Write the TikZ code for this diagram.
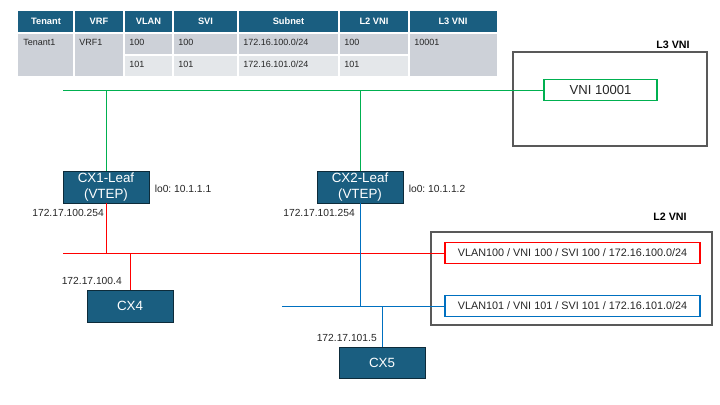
\documentclass[tikz,border=0pt]{standalone}
\usepackage{fontspec}
\setmainfont{Liberation Sans}
\usetikzlibrary{positioning}
\frenchspacing

\definecolor{hdrBlue}{HTML}{1A5E80}
\definecolor{devBorder}{HTML}{0D2B3A}
\definecolor{tblDark}{HTML}{CDD1D8}
\definecolor{tblLight}{HTML}{E4E7EA}
\definecolor{vniGreen}{HTML}{00B050}
\definecolor{vniRed}{HTML}{FF0000}
\definecolor{vniBlue}{HTML}{0070C0}
\definecolor{boxGray}{HTML}{595959}
\definecolor{txtGray}{HTML}{262626}

\begin{document}
\begin{tikzpicture}[x=0.025cm, y=-0.025cm, node distance=1mm,
    device/.style={draw=devBorder, fill=hdrBlue, text=white, inner sep=0pt,
        minimum width=2.15cm, minimum height=0.8cm, align=center,
        font=\fontsize{9.5}{11.3}\selectfont},
    ipLabel/.style={inner sep=0pt, text=txtGray, font=\fontsize{7.3}{9}\selectfont},
    tblText/.style={inner sep=0pt, text=txtGray, font=\fontsize{6.4}{8}\selectfont},
    hdrText/.style={inner sep=0pt, text=white, font=\fontsize{6.6}{8}\selectfont\bfseries},
    vniTitle/.style={inner sep=0pt, font=\fontsize{7.6}{9}\selectfont\bfseries},
    vniBox/.style={draw=boxGray, line width=1.4pt, inner sep=0pt},
    segBox/.style={line width=1.4pt, inner sep=0pt, minimum width=6.375cm,
        minimum height=0.525cm, text=txtGray, font=\fontsize{7.7}{9}\selectfont},
    bus/.style={line width=0.7pt}]
    \useasboundingbox (0,0) rectangle (720,405);

    \fill[tblDark] (18,33) rectangle (497,76);
    \fill[tblLight] (124,55) rectangle (409,76);
    \foreach \xa/\xb/\head in {18/74/Tenant, 74/124/VRF, 124/173/VLAN, 173/238/SVI,
            238/339/Subnet, 339/409/L2 VNI, 409/497/L3 VNI} {
        \fill[hdrBlue] (\xa,11) rectangle (\xb,33);
        \node[hdrText] at ({(\xa+\xb)/2},21) {\head};
    }
    \foreach \xc in {74,124,173,238,339,409}
        \draw[white, line width=1pt] (\xc,11) -- (\xc,76);
    \draw[white, line width=1pt] (18,33) -- (497,33);
    \draw[white, line width=1pt] (124,55) -- (409,55);
    \foreach \xa/\cell in {18/Tenant1, 74/VRF1, 124/100, 173/100, 238/172.16.100.0\slash 24,
            339/100, 409/10001}
        \node[tblText, anchor=west] at (\xa+5,42) {\cell};
    \foreach \xa/\cell in {124/101, 173/101, 238/172.16.101.0\slash 24, 339/101}
        \node[tblText, anchor=west] at (\xa+5,64) {\cell};

    \node[vniBox, minimum width=4.85cm, minimum height=2.35cm] (l3Vni) at (610,99) {};
    \node[vniTitle] (l3Title) at (673,45) {L3 VNI};
    \node[vniBox, draw=vniGreen, minimum width=2.825cm, minimum height=0.525cm,
        font=\fontsize{9.3}{11}\selectfont, text=txtGray] (vni10001) at (600.5,90) {VNI 10001};

    \node[vniBox, minimum width=7.025cm, minimum height=2.325cm] (l2Vni) at (571.5,278.5) {};
    \node[vniTitle] (l2Title) at (670,217) {L2 VNI};
    \node[segBox, draw=vniRed] (vlan100) at (572.5,253) {VLAN100 / VNI 100 / SVI 100 / 172.16.100.0/24};
    \node[segBox, draw=vniBlue] (vlan101) at (572.5,306) {VLAN101 / VNI 101 / SVI 101 / 172.16.101.0/24};

    \node[device] (cx1Leaf) at (106,187) {CX1-Leaf\\(VTEP)};
    \node[device] (cx2Leaf) at (360,187) {CX2-Leaf\\(VTEP)};
    \node[device, minimum height=0.8cm] (cx4) at (130,306) {CX4};
    \node[device, minimum height=0.775cm] (cx5) at (382,362.5) {CX5};

    \node[ipLabel, right = 1.3mm of cx1Leaf, yshift=-1pt] (lo0One) {lo0: 10.1.1.1};
    \node[ipLabel, right = 1.3mm of cx2Leaf, yshift=-1pt] (lo0Two) {lo0: 10.1.1.2};
    \node[ipLabel, anchor=east] (ipCx1) at (104,213) {172.17.100.254};
    \node[ipLabel, anchor=east] (ipCx2) at (355,213) {172.17.101.254};
    \node[ipLabel, anchor=east] (ipCx4) at (122,281) {172.17.100.4};
    \node[ipLabel, anchor=east] (ipCx5) at (377,338) {172.17.101.5};

    \coordinate (greenStart) at (63,90);
    \coordinate (redStart) at (63,253);
    \coordinate (blueStart) at (282,306);

    \draw[bus, vniGreen] (greenStart) -- (vni10001.west);
    \draw[bus, vniGreen] (cx1Leaf.north) -- (cx1Leaf.north |- greenStart);
    \draw[bus, vniGreen] (cx2Leaf.north) -- (cx2Leaf.north |- greenStart);

    \draw[bus, vniRed] (redStart) -- (vlan100.west);
    \draw[bus, vniRed] (cx1Leaf.south) -- (cx1Leaf.south |- redStart);
    \draw[bus, vniRed] (cx4.north) -- (cx4.north |- redStart);

    \draw[bus, vniBlue] (blueStart) -- (vlan101.west);
    \draw[bus, vniBlue] (cx2Leaf.south) -- (cx2Leaf.south |- blueStart);
    \draw[bus, vniBlue] (cx5.north) -- (cx5.north |- blueStart);
\end{tikzpicture}
\end{document}
